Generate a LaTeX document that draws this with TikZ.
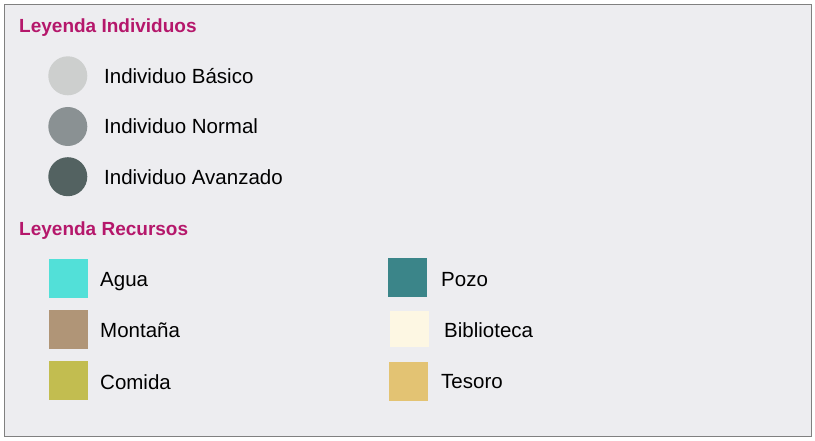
\documentclass[tikz,border=0pt]{standalone}
\usepackage{fontspec}
\setmainfont{Liberation Sans}
\definecolor{bgc}{HTML}{EDEDF0}
\definecolor{framec}{HTML}{808080}
\definecolor{titlec}{HTML}{B5176B}
\definecolor{basico}{HTML}{CDCFCE}
\definecolor{normal}{HTML}{8A9193}
\definecolor{avanzado}{HTML}{536261}
\definecolor{agua}{HTML}{52E0D8}
\definecolor{montana}{HTML}{B09577}
\definecolor{comida}{HTML}{C2BD50}
\definecolor{pozo}{HTML}{3B8589}
\definecolor{biblio}{HTML}{FDF7E3}
\definecolor{tesoro}{HTML}{E3C373}
\begin{document}
\begin{tikzpicture}[x=1pt,y=-1pt,
  titletext/.style={anchor=base west,inner sep=0pt,text=titlec,font=\fontsize{19}{21}\selectfont\bfseries},
  labeltext/.style={anchor=base west,inner sep=0pt,font=\fontsize{20.5}{23}\selectfont},
  dot/.style={circle,inner sep=0pt,minimum size=39pt},
  swatch/.style={rectangle,inner sep=0pt,minimum width=39pt,minimum height=38.5pt}]
\useasboundingbox (0,0) rectangle (815,441);
\draw[framec,fill=bgc,line width=1pt] (4.5,4.5) rectangle (811,436.5);
\node[titletext] (t1) at (19,33) {Leyenda Individuos};
\node[dot,fill=basico] (c1) at (67.8,75.8) {};
\node[dot,fill=normal] (c2) at (67.8,126.5) {};
\node[dot,fill=avanzado] (c3) at (67.8,176.7) {};
\node[labeltext] (l1) at (104,83.3) {Individuo Básico};
\node[labeltext] (l2) at (104,133.3) {Individuo Normal};
\node[labeltext] (l3) at (104,184.3) {Individuo Avanzado};
\node[titletext] (t2) at (19,236) {Leyenda Recursos};
\node[swatch,fill=agua] (s1) at (68,278.5) {};
\node[swatch,fill=montana] (s2) at (68,329.3) {};
\node[swatch,fill=comida] (s3) at (68,380.7) {};
\node[labeltext] (r1) at (100,286.7) {Agua};
\node[labeltext] (r2) at (100,337.7) {Montaña};
\node[labeltext] (r3) at (100,389) {Comida};
\node[swatch,fill=pozo] (s4) at (407,277.3) {};
\node[swatch,fill=biblio,minimum height=36pt] (s5) at (409,328.8) {};
\node[swatch,fill=tesoro] (s6) at (408.8,381.5) {};
\node[labeltext] (r4) at (441,286.7) {Pozo};
\node[labeltext] (r5) at (444,337.7) {Biblioteca};
\node[labeltext] (r6) at (441,388.3) {Tesoro};
\end{tikzpicture}
\end{document}
